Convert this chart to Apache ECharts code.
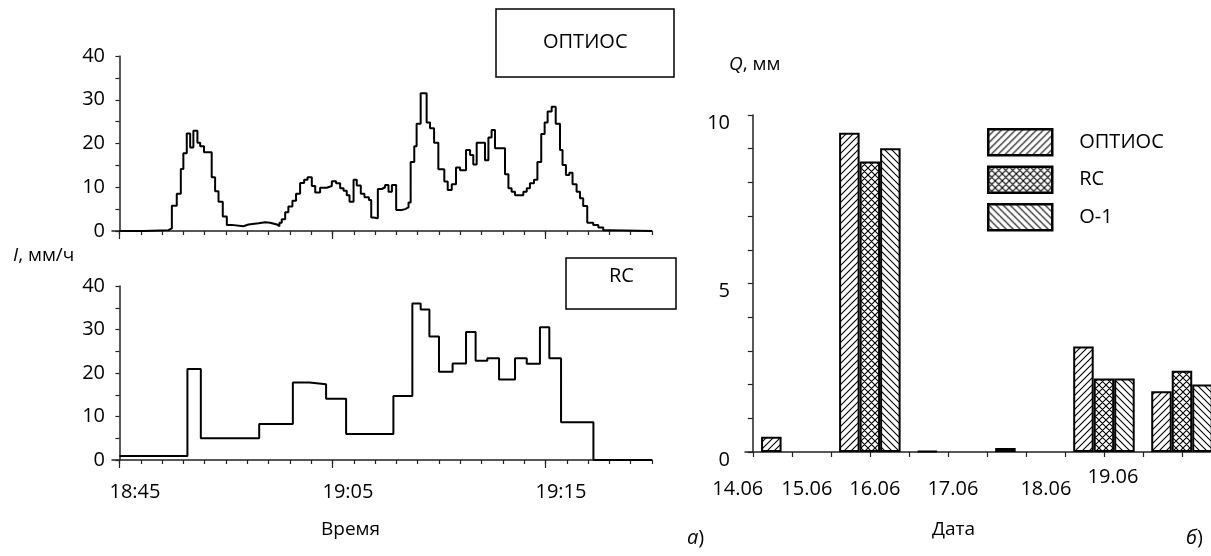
<!DOCTYPE html>
<html lang="ru">
<head>
  <meta charset="UTF-8">
  <title>ОПТИОС / RC</title>
  <script src="https://cdn.jsdelivr.net/npm/echarts@6/dist/echarts.min.js"></script>
  <style>
    * { padding: 0; margin: 0; }
    #main { width: 1211px; height: 556px; background: #fff; }
  </style>
</head>
<body>
  <div id="main"></div>
  <script>
    // --- data ---
    // left top: ОПТИОС rain intensity, step start (minutes from the axis start) and value, mm/h
    const optTime = [0, 1.13, 2.30, 2.46, 2.69, 2.88, 3.00, 3.16, 3.32, 3.47, 3.66, 3.79, 3.97, 4.33, 4.49, 4.65, 4.85, 5.04, 5.27, 5.82,
      6.06, 6.53, 6.84, 7.07, 7.39, 7.51, 7.62, 7.78, 7.93, 8.12, 8.29, 8.48, 8.67, 8.83, 9.03, 9.19, 9.42, 9.73, 9.97, 10.17,
      10.36, 10.52, 10.67, 10.80, 10.99, 11.14, 11.33, 11.50, 11.71, 11.82, 11.92, 12.13, 12.32, 12.47, 12.63, 12.79, 12.99, 13.25, 13.41, 13.57,
      13.67, 13.84, 13.95, 14.14, 14.42, 14.58, 14.77, 14.97, 15.25, 15.41, 15.60, 15.80, 15.99, 16.27, 16.46, 16.61, 16.77, 17.16, 17.32, 17.47,
      17.63, 18.10, 18.26, 18.41, 18.57, 18.96, 19.12, 19.27, 19.46, 19.62, 19.80, 19.96, 20.10, 20.29, 20.48, 20.68, 20.80, 20.96, 21.12, 21.27,
      21.46, 21.62, 21.77, 21.96, 22.24, 22.48, 22.71, 23.03, 25];
    const optRate = [0, 0.2, 0.6, 5.8, 8.5, 14.2, 17.8, 22.3, 19.1, 22.9, 20.2, 19.4, 18.0, 12.3, 9.1, 6.7, 3.3, 1.4, 1.1, 1.5,
      1.75, 2.0, 1.9, 1.5, 1.1, 1.9, 2.7, 4.3, 5.6, 6.9, 8.5, 11.0, 11.7, 12.3, 10.3, 8.8, 9.9, 10.3, 11.4, 10.9,
      9.8, 9.2, 8.2, 6.7, 11.7, 10.4, 8.5, 7.7, 7.1, 3.1, 2.9, 9.6, 10.0, 10.5, 9.0, 10.5, 4.8, 5.0, 5.4, 6.5,
      15.8, 19.4, 24.5, 31.5, 24.8, 23.5, 20.2, 14.1, 11.3, 9.4, 10.7, 14.5, 13.9, 18.5, 17.4, 15.2, 20.2, 16.2, 21.4, 23.1,
      18.9, 13.0, 9.8, 9.0, 8.2, 9.0, 9.8, 10.9, 11.7, 15.8, 22.2, 24.8, 27.3, 28.4, 24.5, 18.5, 15.1, 12.8, 13.3, 10.7,
      9.0, 7.5, 5.7, 1.9, 1.4, 0.8, 0.2, 0, 0];

    // left bottom: RC
    const rcTime = [0, 3.19, 3.82, 6.56, 8.14, 8.92, 9.70, 10.64, 12.86, 13.75, 14.14, 14.55, 15.00, 15.64, 16.27, 16.72,
      17.27, 17.82, 18.57, 19.12, 19.74, 20.18, 20.73, 22.25, 25];
    const rcRate = [0.9, 20.9, 5.0, 8.3, 17.8, 17.4, 14.1, 6.0, 14.7, 36.0, 34.6, 28.4, 20.3, 22.2, 29.4, 22.8,
      23.4, 18.5, 23.4, 22.1, 30.5, 23.4, 8.7, 0, 0];

    const minuteTicks = Array.from({ length: 26 }, (_, i) => i);
    const timeTicks = [0, 10, 20];
    const timeLabels = ['18:45', '19:05', '19:15'];

    // right: daily depth Q, mm
    const dates = ['14.06', '15.06', '16.06', '17.06', '18.06', '19.06'];
    const dayCenter = [0.5, 1.5, 2.5, 3.5, 4.5, 5.5];
    const qOptios = [0.45, 9.47, 0.03, 0.12, 3.13, 1.80];
    const qRC = [0, 8.62, 0, 0, 2.18, 2.41];
    const qO1 = [0, 9.01, 0, 0, 2.18, 2.0];
    const halfDayTicks = [0, 0.5, 1, 1.5, 2, 2.5, 3, 3.5, 4, 4.5, 5, 5.5, 6];
    const dateTicks = [0, 1, 2, 3, 4, 5];
    // the date labels sit a bit left of their ticks in the original (px left, px raised)
    const dateShift = [15, 24, 34, 34, 19, 30];
    const dateRaise = [0, 0, 0, 0, 0, 12];

    // hatch fills
    function hatch(kind) {
      const s = 7;
      const c = document.createElement('canvas');
      c.width = s; c.height = s;
      const g = c.getContext('2d');
      g.fillStyle = '#fff';
      g.fillRect(0, 0, s, s);
      g.strokeStyle = '#000';
      g.lineWidth = 1.1;
      g.beginPath();
      if (kind === '/' || kind === 'x') {
        g.moveTo(-1, s + 1); g.lineTo(s + 1, -1);
        g.moveTo(-2, 2); g.lineTo(2, -2);
        g.moveTo(s - 2, s + 2); g.lineTo(s + 2, s - 2);
      }
      if (kind === '\\' || kind === 'x') {
        g.moveTo(-1, -1); g.lineTo(s + 1, s + 1);
        g.moveTo(-2, s - 2); g.lineTo(2, s + 2);
        g.moveTo(s - 2, -2); g.lineTo(s + 2, 2);
      }
      g.stroke();
      return { image: c, repeat: 'repeat' };
    }

    const chart = echarts.init(document.getElementById('main'));
    const ink = '#222';
    const txt = { fontFamily: 'Open Sans', fontSize: 20, color: '#000' };

    const toPts = (xs, ys) => xs.map((x, i) => [x, ys[i]]);
    const toBars = (ys) => dayCenter.map((x, i) => [x, ys[i] === 0 ? null : ys[i]]);

    const rich = {};
    dateShift.forEach((d, i) => {
      rich['d' + i] = { fontFamily: 'Open Sans', fontSize: 20, color: '#000', padding: [12 - dateRaise[i], 2 * d, 0, 0] };
    });

    function timeAxis(gi, showLabels) {
      return [
        {
          type: 'value', gridIndex: gi, position: 'bottom', min: -0.35, max: 25,
          axisLine: { show: true, lineStyle: { color: ink, width: 1.5 } },
          axisTick: { show: true, customValues: minuteTicks, length: 4, lineStyle: { color: ink, width: 1.2 } },
          axisLabel: { show: false }, splitLine: { show: false }
        },
        {
          type: 'value', gridIndex: gi, position: 'bottom', min: -0.35, max: 25,
          axisLine: { show: false },
          axisTick: { show: true, customValues: timeTicks, length: 8, lineStyle: { color: ink, width: 1.2 } },
          axisLabel: {
            show: showLabels, customValues: timeTicks, margin: 22, padding: [0, 0, 0, 31], ...txt,
            formatter: (v) => timeLabels[timeTicks.indexOf(v)] || ''
          },
          splitLine: { show: false }
        }
      ];
    }

    function rateAxis(gi) {
      return {
        type: 'value', gridIndex: gi, min: 0, max: 40, interval: 5,
        axisLine: { show: true, lineStyle: { color: ink, width: 1.5 } },
        axisTick: { show: true, length: 4, lineStyle: { color: ink, width: 1.2 } },
        axisLabel: { margin: 7, ...txt, formatter: (v) => (v % 10 === 0 ? String(v) : '') },
        splitLine: { show: false }
      };
    }

    const stepLine = (name, xi, yi, data) => ({
      name, type: 'line', step: 'end', xAxisIndex: xi, yAxisIndex: yi,
      symbol: 'none', lineStyle: { color: '#000', width: 2 }, data
    });

    const bar = (name, kind, ys) => ({
      name, type: 'bar', xAxisIndex: 4, yAxisIndex: 2, barWidth: 20.5, barGap: '0%',
      itemStyle: { color: hatch(kind), borderColor: '#000', borderWidth: 2 },
      data: toBars(ys)
    });

    const italicRich = (size) => ({ i: { fontFamily: 'Open Sans', fontSize: size, fontStyle: 'italic', color: '#000' } });

    const option = {
      animation: false,
      textStyle: { fontFamily: 'Open Sans', color: '#000' },
      title: [
        { text: 'ОПТИОС', left: 496, top: 9, borderColor: '#000', borderWidth: 1.5, padding: [23, 47, 25, 47],
          textStyle: { ...txt, fontWeight: 'normal', lineHeight: 20 } },
        { text: 'RC', left: 566, top: 258, borderColor: '#000', borderWidth: 1.5, padding: [8, 42, 23, 43],
          textStyle: { ...txt, fontWeight: 'normal', lineHeight: 20 } },
        { text: '{i|I}, мм/ч', left: 8, top: 241,
          textStyle: { ...txt, fontSize: 19, fontWeight: 'normal', rich: italicRich(19) } },
        { text: '{i|Q}, мм', left: 724, top: 50,
          textStyle: { ...txt, fontSize: 19, fontWeight: 'normal', rich: italicRich(19) } },
        { text: 'Время', left: 316, top: 515, textStyle: { ...txt, fontSize: 19, fontWeight: 'normal' } },
        { text: 'Дата', left: 927, top: 515, textStyle: { ...txt, fontSize: 19, fontWeight: 'normal' } },
        { text: '{i|а})', left: 682, top: 523, textStyle: { ...txt, fontWeight: 'normal', rich: italicRich(20) } },
        { text: '{i|б})', left: 1181, top: 523, textStyle: { ...txt, fontWeight: 'normal', rich: italicRich(20) } }
      ],
      legend: {
        data: ['ОПТИОС', 'RC', 'О-1'],
        orient: 'vertical', left: 987, top: 128, padding: 0,
        itemWidth: 64, itemHeight: 26, itemGap: 9, icon: 'rect',
        itemStyle: { borderColor: '#000', borderWidth: 2.5 },
        textStyle: { ...txt, padding: [0, 0, 0, 22] }
      },
      grid: [
        { left: 112, right: 559, top: 56, bottom: 325, outerBoundsMode: 'none' },
        { left: 112, right: 559, top: 286, bottom: 96, outerBoundsMode: 'none' },
        { left: 745, width: 476, top: 115, height: 337, outerBoundsMode: 'none' }
      ],
      xAxis: [
        ...timeAxis(0, false),
        ...timeAxis(1, true),
        {
          type: 'value', gridIndex: 2, position: 'bottom', min: -0.1, max: 6,
          axisLine: { show: true, lineStyle: { color: ink, width: 1.5 } },
          axisTick: { show: true, customValues: halfDayTicks, length: 5, lineStyle: { color: ink, width: 1.2 } },
          axisLabel: {
            customValues: dateTicks, margin: 15, ...txt, rich,
            formatter: (v) => {
              const i = dateTicks.indexOf(v);
              return i < 0 ? '' : '{d' + i + '|' + dates[i] + '}';
            }
          },
          splitLine: { show: false }
        }
      ],
      yAxis: [
        rateAxis(0),
        rateAxis(1),
        {
          type: 'value', gridIndex: 2, min: 0, max: 10, interval: 1,
          axisLine: { show: true, lineStyle: { color: ink, width: 1.5 } },
          axisTick: { show: true, length: 5, lineStyle: { color: ink, width: 1.2 } },
          axisLabel: { margin: 15, verticalAlign: 'top', lineHeight: 16, ...txt, formatter: (v) => (v % 5 === 0 ? String(v) : '') },
          splitLine: { show: false }
        }
      ],
      series: [
        stepLine('ОПТИОС, I', 0, 0, toPts(optTime, optRate)),
        stepLine('RC, I', 2, 1, toPts(rcTime, rcRate)),
        bar('ОПТИОС', '/', qOptios),
        bar('RC', 'x', qRC),
        bar('О-1', '\\', qO1)
      ]
    };

    chart.setOption(option);
  </script>
</body>
</html>
